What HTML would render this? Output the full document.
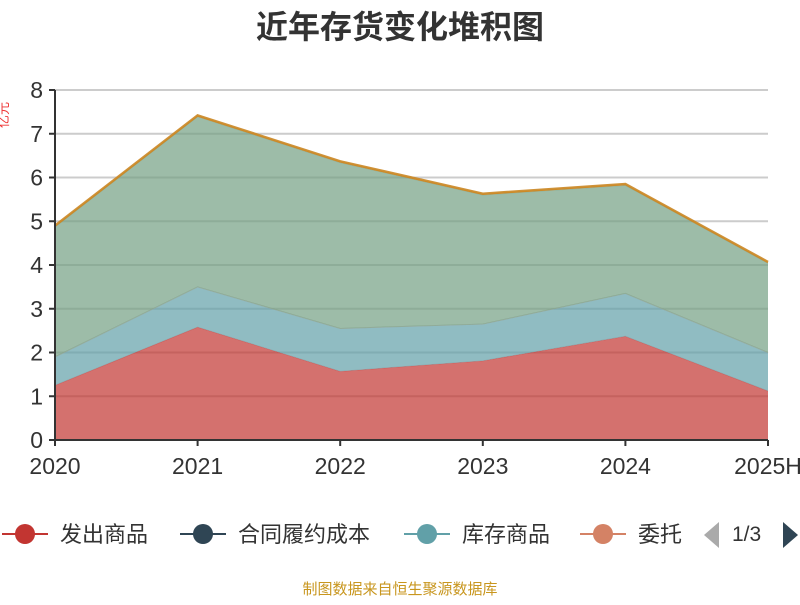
<!DOCTYPE html>
<html><head><meta charset="utf-8"><style>
body{margin:0;background:#fff;width:800px;height:600px;overflow:hidden;font-family:"Liberation Sans","Noto Sans CJK SC",sans-serif}
</style></head><body>
<svg id="c" width="800" height="600" style="font-family:'Liberation Sans','Noto Sans CJK SC',sans-serif">
<text x="400" y="38" text-anchor="middle" font-size="32" font-weight="bold" fill="#333">近年存货变化堆积图</text>
<text x="8" y="115" font-size="13" fill="#e33" transform="rotate(-90 8 115)" text-anchor="middle">亿元</text>
<g id="grid"></g><g id="areas"></g><g id="axes"></g>
<g font-size="22" fill="#333">
<g><line x1="2" y1="534" x2="48" y2="534" stroke="#c23531" stroke-width="2"/><circle cx="25" cy="534" r="10" fill="#c23531"/><text x="60" y="542">发出商品</text></g>
<g><line x1="180" y1="534" x2="226" y2="534" stroke="#2f4554" stroke-width="2"/><circle cx="203" cy="534" r="10" fill="#2f4554"/><text x="238" y="542">合同履约成本</text></g>
<g><line x1="404" y1="534" x2="450" y2="534" stroke="#61a0a8" stroke-width="2"/><circle cx="427" cy="534" r="10" fill="#61a0a8"/><text x="462" y="542">库存商品</text></g>
<g><line x1="580" y1="534" x2="626" y2="534" stroke="#d48265" stroke-width="2"/><circle cx="603" cy="534" r="10" fill="#d48265"/><text x="638" y="542">委托</text></g>
<polygon points="719,522 719,548 704,535" fill="#aaa"/>
<text x="732" y="541" font-size="21">1/3</text>
<polygon points="783,522 783,548 798,535" fill="#2f4554"/>
</g>
<text x="400" y="594" text-anchor="middle" font-size="15" fill="#c8961e">制图数据来自恒生聚源数据库</text>
</svg>
<script>
const categories=["2020","2021","2022","2023","2024","2025H"];
const fachu=[1.25,2.58,1.57,1.81,2.37,1.12];
const hetong=[0,0,0,0,0,0];
const kucun=[0.65,0.92,0.98,0.84,0.98,0.88];
const weituo=[0,0,0,0,0,0];
const other5=[0,0,0,0,0,0];
const yuancailiao=[2.97,3.89,3.79,2.95,2.47,2.04];
const other7=[0.03,0.03,0.03,0.03,0.03,0.03];
const yTicks=[0,1,2,3,4,5,6,7,8];
const series=[[fachu,"#c23531","fachu"],[hetong,"#2f4554","hetong"],[kucun,"#61a0a8","kucun"],[weituo,"#d48265","weituo"],[other5,"#91c7ae","other5"],[yuancailiao,"#749f83","yuancailiao"],[other7,"#ca8622","other7"]];
const NS="http://www.w3.org/2000/svg";
const x0=55,x1=768,yb=440,yt=90,ymax=8;
const X=i=>x0+(x1-x0)*i/(categories.length-1);
const Y=v=>yb-(yb-yt)*v/ymax;
function mk(t,a,p){const e=document.createElementNS(NS,t);for(const k in a)e.setAttribute(k,a[k]);p.appendChild(e);return e;}
const grid=document.getElementById('grid'),axes=document.getElementById('axes'),areas=document.getElementById('areas');
yTicks.forEach(v=>{
 if(v>0){const l=mk('line',{x1:x0,x2:x1,y1:Y(v),y2:Y(v),stroke:'#ccc','stroke-width':2},grid);
 
 }
 const tk=mk('line',{x1:x0-6,x2:x0,y1:Y(v),y2:Y(v),stroke:'#333','stroke-width':2},axes);
 
 
 const t=mk('text',{x:x0-12,y:Y(v)+8,'text-anchor':'end','font-size':23,fill:'#333'},axes);
 t.textContent=v;
 
 
});
let base=categories.map(()=>0);
series.forEach(([vals,col,name],si)=>{
 const top=vals.map((v,i)=>base[i]+v);
 let d=top.map((v,i)=>(i?'L':'M')+X(i)+','+Y(v)).join('');
 for(let i=categories.length-1;i>=0;i--)d+='L'+X(i)+','+Y(base[i]);
 const a=mk('path',{d:d+'Z',fill:col,'fill-opacity':0.7},areas);
 
 
 if(name!=='hetong'){
 const last=si===series.length-1;
 const ln=mk('polyline',{points:top.map((v,i)=>X(i)+','+Y(v)).join(' '),fill:'none',stroke:col,'stroke-width':last?2.5:1,'stroke-opacity':last?0.9:0.35},areas);
 
 
 }
 base=top;
});
const ya=mk('line',{x1:x0,x2:x0,y1:yt,y2:yb,stroke:'#333','stroke-width':2},axes);


const xa=mk('line',{x1:x0,x2:x1,y1:yb,y2:yb,stroke:'#333','stroke-width':2},axes);


categories.forEach((c,i)=>{
 const tk=mk('line',{x1:X(i),x2:X(i),y1:yb,y2:yb+6,stroke:'#333','stroke-width':2},axes);
 
 
 const t=mk('text',{x:X(i),y:yb+34,'text-anchor':'middle','font-size':23,fill:'#333'},axes);
 t.textContent=c;
 
 
});
</script>
</body></html>
